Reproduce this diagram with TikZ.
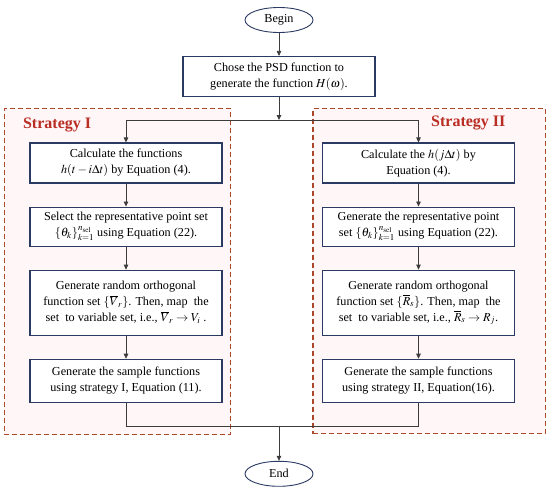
\documentclass[tikz,border=0pt]{standalone}
\usepackage{mathptmx}
\usepackage{fontspec}
\setmainfont{Liberation Serif}
\usepackage{tikz}
\usetikzlibrary{arrows.meta,positioning,shapes.geometric,fit,backgrounds,calc}
\definecolor{boxline}{RGB}{42,58,98}
\definecolor{flowline}{RGB}{60,60,60}
\definecolor{frameline}{RGB}{172,72,42}
\definecolor{framefill}{RGB}{255,246,248}
\definecolor{tagred}{RGB}{185,45,35}

\begin{document}
\begin{tikzpicture}[
  x=1pt, y=1pt,
  font=\fontsize{12.2}{16}\selectfont,
  box/.style={rectangle, draw=boxline, line width=1.1pt, minimum width=192pt, align=center, fill=white, inner sep=1pt},
  term/.style={ellipse, draw=boxline, line width=0.9pt, minimum width=68pt, minimum height=25pt, inner sep=1pt, fill=white},
  flow/.style={-{Triangle[length=5pt, width=4.5pt]}, line width=0.8pt, flowline},
  link/.style={line width=0.8pt, flowline},
  frame/.style={draw=frameline, dash pattern=on 5pt off 3pt, line width=1.1pt, fill=framefill, inner sep=0pt},
  tag/.style={font=\fontsize{16}{18}\selectfont\bfseries, text=tagred, inner sep=0pt}
]
\useasboundingbox (0,0) rectangle (550,-489);

\node[term] (start) at (279,-20) {Begin};
\node[box, minimum height=40pt, below=23pt of start] (psd)
  {Chose the PSD function to\\generate the function $H(\omega)$.};

% Strategy I
\node[box, minimum height=40pt] (l1) at (126,-163)
  {Calculate the functions\\$h(t-i\Delta t)$ by Equation (4).};
\node[box, minimum height=39pt, below=23pt of l1] (l2)
  {Select the representative point set\\$\{\theta_k\}_{k=1}^{n_{\mathrm{sel}}}$ using Equation (22).};
\node[box, minimum height=65pt, below=23pt of l2] (l3)
  {Generate random orthogonal\\function set $\{\overline{V}_r\}$. Then, map~ the\\set~ to variable set, i.e., $\overline{V}_r\rightarrow V_i$ .};
\node[box, minimum height=43pt, below=23pt of l3] (l4)
  {Generate the sample functions\\using strategy I, Equation (11).};

% Strategy II
\node[box, minimum height=40pt] (r1) at (418.5,-163)
  {Calculate the $h(j\Delta t)$ by\\Equation (4).};
\node[box, minimum height=39pt, below=23pt of r1] (r2)
  {Generate the representative point\\set $\{\theta_k\}_{k=1}^{n_{\mathrm{sel}}}$ using Equation (22).};
\node[box, minimum height=65pt, below=23pt of r2] (r3)
  {Generate random orthogonal\\function set $\{\overline{R}_s\}$. Then, map~ the\\set~ to variable set, i.e., $\overline{R}_s\rightarrow R_j$.};
\node[box, minimum height=43pt, below=23pt of r3] (r4)
  {Generate the sample functions\\using strategy II, Equation(16).};

\path (psd.south) ++(0,-23pt) coordinate (split);
\path (psd.south |- l4.south) ++(0,-24pt) coordinate (merge);
\node[term, below=34pt of merge] (stop) {End};

\draw[flow] (start) -- (psd);
\draw[flow] (psd) -- (split);
\draw[flow] (split) -| (l1);
\draw[flow] (split) -| (r1);
\foreach \a/\b in {l1/l2,l2/l3,l3/l4,r1/r2,r2/r3,r3/r4}
  \draw[flow] (\a) -- (\b);
\draw[link] (l4) |- (merge) -| (r4);
\draw[flow] (merge) -- (stop);

\begin{scope}[on background layer]
\node[frame, fit={([xshift=-25pt,yshift=34pt]l1.north west) ([xshift=8pt,yshift=-32pt]l4.south east)}] (frameL) {};
\node[frame, fit={([xshift=-9pt,yshift=34pt]r1.north west) ([xshift=30pt,yshift=-31pt]r4.south east)}] (frameR) {};
\end{scope}

\node[tag, anchor=base west] (tagL) at ([xshift=19pt,yshift=-21pt]frameL.north west) {Strategy I};
\node[tag, anchor=base east] (tagR) at ([xshift=-40pt,yshift=-19pt]frameR.north east) {Strategy II};

\end{tikzpicture}
\end{document}
